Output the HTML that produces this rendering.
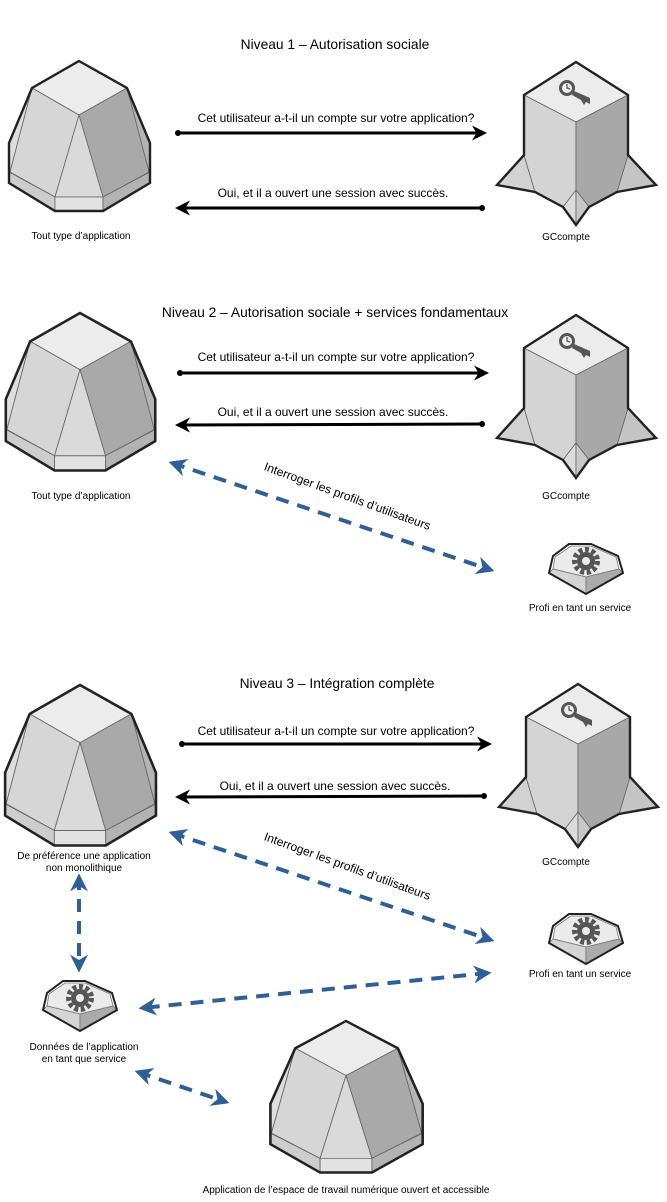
<!DOCTYPE html>
<html><head><meta charset="utf-8"><style>
html,body{margin:0;padding:0;background:#fff;}
svg{display:block;font-family:"Liberation Sans",Arial,sans-serif;}
.t{font-size:13.8px;fill:#000;text-anchor:middle;}
.m{font-size:12px;fill:#000;text-anchor:middle;}
.s{font-size:10px;fill:#000;text-anchor:middle;}
</style></head><body>
<svg width="667" height="1202" viewBox="0 0 667 1202">
<defs>
<g id="app">
  <polygon points="0,0 48,27 0,54 -47,27" fill="#ececec" stroke="#666" stroke-width="0.8"/>
  <polygon points="-47,27 -70,82 -70,111 -69,111" fill="#dedede" stroke="#666" stroke-width="0.8"/>
  <polygon points="48,27 71,82 71,111 70,111" fill="#b4b4b4" stroke="#666" stroke-width="0.8"/>
  <polygon points="-47,27 0,54 -24,136 -69,111" fill="#d6d6d6" stroke="#666" stroke-width="0.8"/>
  <polygon points="48,27 70,111 24,136 0,54" fill="#a9a9a9" stroke="#666" stroke-width="0.8"/>
  <polygon points="0,54 24,136 -24,136" fill="#dadada" stroke="#666" stroke-width="0.8"/>
  <polygon points="-70,111 -24,136 -24,150 -70,122" fill="#cdcdcd" stroke="#666" stroke-width="0.8"/>
  <polygon points="-24,136 24,136 24,150 -24,150" fill="#e2e2e2" stroke="#666" stroke-width="0.8"/>
  <polygon points="24,136 71,111 71,122 24,150" fill="#b3b3b3" stroke="#666" stroke-width="0.8"/>
  <polygon points="0,0 48,27 71,82 71,122 24,150 -24,150 -70,122 -70,82 -47,27" fill="none" stroke="#222" stroke-width="2.4" stroke-linejoin="miter"/>
</g>
<g id="gc">
  <polygon points="-52,93 -79,123 -41,130" fill="#d2d2d2" stroke="#666" stroke-width="0.8"/>
  <polygon points="52,93 80,123 41,130" fill="#c4c4c4" stroke="#666" stroke-width="0.8"/>
  <polygon points="0,0 52,33 0,60 -52,33" fill="#ececec" stroke="#666" stroke-width="0.8"/>
  <polygon points="-52,33 0,60 0,128 -13,145 -41,130 -52,93" fill="#d4d4d4" stroke="#666" stroke-width="0.8"/>
  <polygon points="52,33 0,60 0,128 13,145 41,130 52,93" fill="#a8a8a8" stroke="#666" stroke-width="0.8"/>
  <polygon points="0,128 -13,145 0,163" fill="#dcdcdc" stroke="#666" stroke-width="0.8"/>
  <polygon points="0,128 13,145 0,163" fill="#c8c8c8" stroke="#666" stroke-width="0.8"/>
  <polygon points="0,0 52,33 52,93 80,123 41,130 13,145 0,163 -13,145 -41,130 -79,123 -52,93 -52,33" fill="none" stroke="#222" stroke-width="2.4"/>
  <circle cx="-9" cy="26" r="8" fill="#555"/>
  <circle cx="-9" cy="26" r="5" fill="#eee"/>
  <path d="M-9,22 L-9,26 L-6,27" stroke="#555" stroke-width="1.3" fill="none"/>
  <polygon points="-2,29 14,36 14,42 10,40 8,43 5,38 -4,33" fill="#555"/>
</g>
<g id="svc">
  <polygon points="-15,-17 5,-17 30,-6 33,6 0,14 -33,6 -31,-6" fill="#ebebeb" stroke="#777" stroke-width="0.8"/>
  <polygon points="-37,10 -33,6 0,14 0,31" fill="#d4d4d4" stroke="#777" stroke-width="0.8"/>
  <polygon points="0,14 33,6 37,10 0,31" fill="#ababab" stroke="#777" stroke-width="0.8"/>
  <polygon points="-17,-19 5,-19 32,-7 37,10 0,31 -37,10 -33,-7" fill="none" stroke="#222" stroke-width="2"/>
  <circle cx="0" cy="-2" r="11.5" fill="none" stroke="#555" stroke-width="5" stroke-dasharray="4 2.6"/>
  <circle cx="0" cy="-2" r="9" fill="#555"/>
  <circle cx="0" cy="-2" r="4" fill="#ebebeb"/>
</g>
<marker id="ah" viewBox="0 0 10 10" refX="8" refY="5" markerWidth="5" markerHeight="5" orient="auto-start-reverse">
  <path d="M0,0 L10,5 L0,10 L3,5 z" fill="#000"/>
</marker>
<marker id="bh" viewBox="0 0 10 10" refX="8" refY="5" markerWidth="4.5" markerHeight="4.5" orient="auto-start-reverse">
  <path d="M0,0 L10,5 L0,10 L3,5 z" fill="#2f5f99"/>
</marker>
</defs>

<!-- Panel 1 -->
<text class="t" x="335" y="49">Niveau 1 – Autorisation sociale</text>
<use href="#app" x="79" y="61"/>
<text class="s" x="81" y="239">Tout type d’application</text>
<use href="#gc" x="576" y="62"/>
<text class="s" x="566" y="240">GCcompte</text>
<text class="m" x="336" y="122">Cet utilisateur a-t-il un compte sur votre application?</text>
<line x1="178" y1="133" x2="484" y2="133" stroke="#000" stroke-width="3" marker-end="url(#ah)"/>
<circle cx="178" cy="133" r="3" fill="#000"/>
<text class="m" x="333" y="197">Oui, et il a ouvert une session avec succès.</text>
<line x1="482" y1="208" x2="178" y2="208" stroke="#000" stroke-width="3" marker-end="url(#ah)"/>
<circle cx="482" cy="208" r="3" fill="#000"/>

<!-- Panel 2 -->
<text class="t" x="335" y="317">Niveau 2 – Autorisation sociale + services fondamentaux</text>
<g transform="translate(80,313) scale(1.06,1.05)"><use href="#app"/></g>
<text class="s" x="81" y="499">Tout type d’application</text>
<use href="#gc" x="576" y="315"/>
<text class="s" x="566" y="499">GCcompte</text>
<text class="m" x="336" y="361">Cet utilisateur a-t-il un compte sur votre application?</text>
<line x1="180" y1="373" x2="486" y2="373" stroke="#000" stroke-width="3" marker-end="url(#ah)"/>
<circle cx="180" cy="373" r="3" fill="#000"/>
<text class="m" x="333" y="416">Oui, et il a ouvert une session avec succès.</text>
<line x1="482" y1="424" x2="178" y2="425" stroke="#000" stroke-width="3" marker-end="url(#ah)"/>
<circle cx="482" cy="424" r="3" fill="#000"/>
<line x1="172" y1="463" x2="491" y2="570" stroke="#2f5f99" stroke-width="4" stroke-dasharray="13 9" marker-start="url(#bh)" marker-end="url(#bh)"/>
<text class="m" x="346" y="500" transform="rotate(20 346 500)">Interroger les profils d’utilisateurs</text>
<use href="#svc" x="586" y="563"/>
<text class="s" x="580" y="611">Profi en tant un service</text>

<!-- Panel 3 -->
<text class="t" x="337" y="688">Niveau 3 – Intégration complète</text>
<g transform="translate(80,685) scale(1.07,1.07)"><use href="#app"/></g>
<text class="s" x="84" y="859">De préférence une application</text>
<text class="s" x="84" y="871">non monolithique</text>
<use href="#gc" x="578" y="684"/>
<text class="s" x="566" y="865">GCcompte</text>
<text class="m" x="336" y="735">Cet utilisateur a-t-il un compte sur votre application?</text>
<line x1="182" y1="744" x2="489" y2="744" stroke="#000" stroke-width="3" marker-end="url(#ah)"/>
<circle cx="182" cy="744" r="3" fill="#000"/>
<text class="m" x="335" y="790">Oui, et il a ouvert une session avec succès.</text>
<line x1="484" y1="796" x2="178" y2="797" stroke="#000" stroke-width="3" marker-end="url(#ah)"/>
<circle cx="484" cy="796" r="3" fill="#000"/>
<line x1="172" y1="833" x2="491" y2="940" stroke="#2f5f99" stroke-width="4" stroke-dasharray="13 9" marker-start="url(#bh)" marker-end="url(#bh)"/>
<text class="m" x="346" y="870" transform="rotate(20 346 870)">Interroger les profils d’utilisateurs</text>
<use href="#svc" x="586" y="933"/>
<text class="s" x="580" y="977">Profi en tant un service</text>

<line x1="79" y1="877" x2="79" y2="969" stroke="#2f5f99" stroke-width="4" stroke-dasharray="13 9" marker-start="url(#bh)" marker-end="url(#bh)"/>
<use href="#svc" x="80" y="1000"/>
<text class="s" x="84" y="1050">Données de l’application</text>
<text class="s" x="84" y="1062">en tant que service</text>
<line x1="488" y1="973" x2="142" y2="1008" stroke="#2f5f99" stroke-width="4" stroke-dasharray="13 9" marker-start="url(#bh)" marker-end="url(#bh)"/>
<line x1="138" y1="1072" x2="226" y2="1102" stroke="#2f5f99" stroke-width="4" stroke-dasharray="13 9" marker-start="url(#bh)" marker-end="url(#bh)"/>

<g transform="translate(346,1021) scale(1.08,1.01)"><use href="#app"/></g>
<text class="s" x="346" y="1193">Application de l’espace de travail numérique ouvert et accessible</text>
</svg>
</body></html>
